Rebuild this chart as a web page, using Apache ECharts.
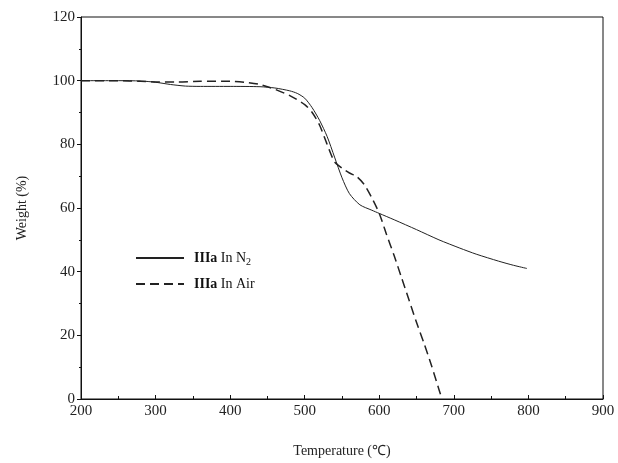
<!DOCTYPE html>
<html><head><meta charset="utf-8">
<script src="https://cdn.jsdelivr.net/npm/echarts@6/dist/echarts.min.js"></script>
<style>html,body{margin:0;padding:0;background:#fff}#c{width:618px;height:463px}</style>
</head><body><div id="c"></div>
<script>
var tempN2 = [200,250,280,300,320,340,360,400,440,460,480,490,500,510,520,530,540,550,560,574,590,600,620,650,680,708,730,760,780,798];
var weightN2 = [100,100,99.9,99.5,98.8,98.3,98.2,98.2,98.1,97.7,96.8,96,94.5,91.5,87.5,82.5,76,69.5,64.5,61,59.3,58.3,56.3,53.2,50,47.4,45.5,43.3,42,41];
var tempAir = [200,250,280,300,330,360,400,420,440,460,480,500,510,520,530,540,550,560,570,580,590,600,610,620,630,640,650,660,670,680,684];
var weightAir = [100,100,99.8,99.6,99.6,99.8,99.8,99.5,98.8,97.3,95.3,92.5,90,86,80,74.5,72.5,71,69.8,67.3,63.2,58.3,51.5,45,38,31,24,17.5,10.5,3,0];
var xTicks = {min:200, max:900, interval:100};
var yTicks = {min:0, max:120, interval:20};
var seriesNames = ['IIIa In N2','IIIa In Air'];

function pairs(xs, ys){ return xs.map(function(x,i){return [x, ys[i]];}); }
var font = '"Liberation Serif", "Times New Roman", serif';
var chart = echarts.init(document.getElementById('c'));
chart.setOption({
  animation:false,
  backgroundColor:'#fff',
  grid:{left:81, right:15, top:17, bottom:62, show:true, borderColor:'#111', borderWidth:1},
  xAxis:{type:'value', min:xTicks.min, max:xTicks.max, interval:xTicks.interval,
    name:'Temperature (\u2103)', nameLocation:'middle', nameGap:45,
    nameTextStyle:{fontFamily:font, fontSize:14, color:'#222'},
    axisLine:{lineStyle:{color:'#111', width:1}},
    axisTick:{inside:true, length:4, lineStyle:{color:'#111'}},
    minorTick:{show:true, splitNumber:2, length:3, lineStyle:{color:'#111'}},
    splitLine:{show:false},
    axisLabel:{fontFamily:font, fontSize:15, color:'#222', margin:5}},
  yAxis:{type:'value', min:yTicks.min, max:yTicks.max, interval:yTicks.interval,
    name:'Weight (%)', nameLocation:'middle', nameGap:52,
    nameTextStyle:{fontFamily:font, fontSize:14, color:'#222'},
    axisLine:{lineStyle:{color:'#111', width:1}},
    axisTick:{inside:false, length:4, lineStyle:{color:'#111'}},
    minorTick:{show:true, splitNumber:2, length:2, lineStyle:{color:'#111'}},
    splitLine:{show:false},
    axisLabel:{fontFamily:font, fontSize:15, color:'#222', margin:6}},
  legend:{orient:'vertical', left:130, top:246, itemWidth:48, itemHeight:10, itemGap:10,
    data:seriesNames,
    itemStyle:{opacity:0},
    formatter:function(n){ return n==='IIIa In N2' ? '{b|IIIa} {t|In N}{s|2}' : '{b|IIIa} {t|In Air}'; },
    textStyle:{fontFamily:font, fontSize:14, color:'#111',
      rich:{b:{fontFamily:font, fontWeight:'bold', fontSize:14, color:'#111', padding:[0,0,0,5]},
            t:{fontFamily:font, fontSize:14, color:'#111'},
            s:{fontFamily:font, fontSize:10, color:'#111', padding:[8,0,0,0]}}}},
  series:[
    {name:seriesNames[0], type:'line', data:pairs(tempN2, weightN2), smooth:0.25, symbol:'none',
      lineStyle:{color:'#222', width:1, type:'solid'}, itemStyle:{color:'#222'}},
    {name:seriesNames[1], type:'line', data:pairs(tempAir, weightAir), smooth:0.25, symbol:'none',
      lineStyle:{color:'#222', width:1.5, type:[9,5]}, itemStyle:{color:'#222'}}
  ]
});
</script></body></html>
